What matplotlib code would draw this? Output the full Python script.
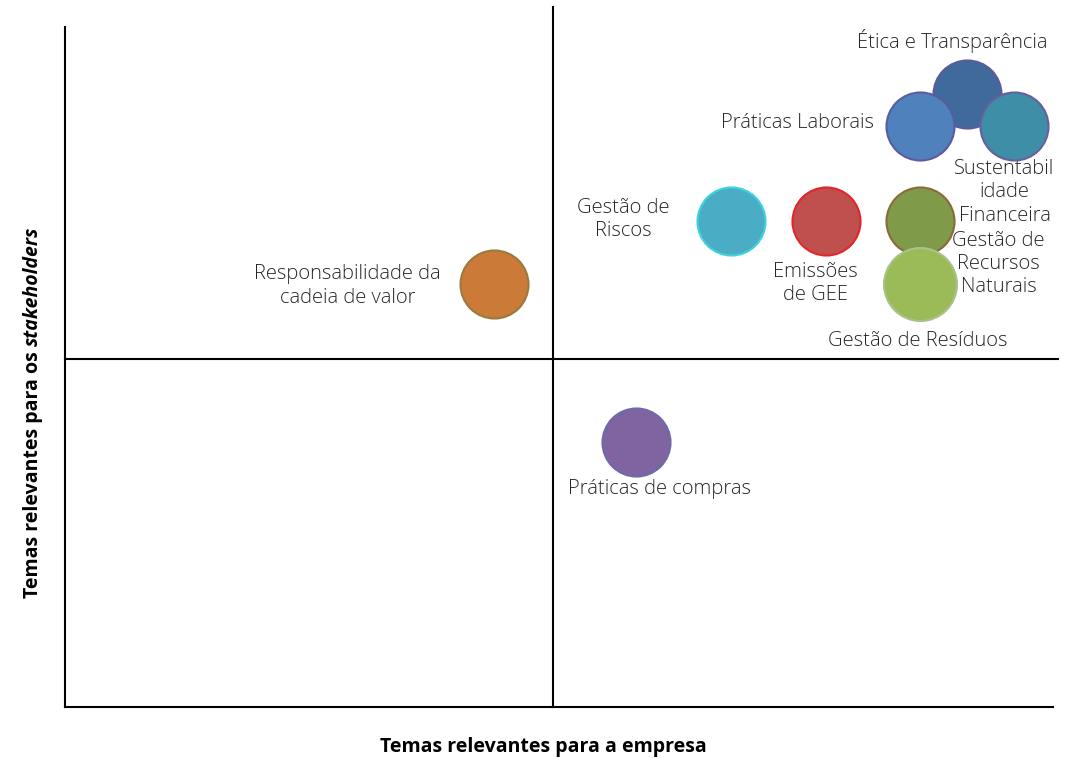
import matplotlib
matplotlib.use("Agg")
import matplotlib.pyplot as plt

# ---------------------------------------------------------
# DATA (materiality matrix, 0-10 scale)
# ---------------------------------------------------------
temas = [
    "Ética e Transparência",
    "Práticas Laborais",
    "Sustentabil\nidade\nFinanceira",
    "Gestão de\nRiscos",
    "Emissões\nde GEE",
    "Gestão de\nRecursos\nNaturais",
    "Gestão de Resíduos",
    "Responsabilidade da\ncadeia de valor",
    "Práticas de compras",
]
empresa = [9.13, 8.65, 9.61, 6.74, 7.70, 8.65, 8.65, 4.34, 5.78]
stakeholders = [9.01, 8.54, 8.54, 7.15, 7.15, 7.15, 6.22, 6.22, 3.90]
tamanho = [2400, 2400, 2400, 2400, 2400, 2400, 2760, 2400, 2400]

cores = ["#406A9C", "#4F81BD", "#3D8EA6", "#4BACC6", "#C0504D",
         "#7F9A48", "#9BBB59", "#CC7A38", "#8064A2"]
bordas = ["#5B5B9C", "#5B5B9F", "#6A5E9E", "#3FD3DA", "#E0262A",
          "#8B6A3A", "#A9C28C", "#9A7A40", "#6E6AA8"]

# label offsets from bubble centre (pixels, screen down = positive)
offsets = [(-15, -53), (-122, -3), (-10, 66), (-108, -1), (-10, 63),
           (79, 43), (-2, 57), (-146, 2), (23, 47)]

x_meio = 4.94
y_meio = 5.12

# ---------------------------------------------------------
# FIGURE
# ---------------------------------------------------------
W, H = 1079, 758
fig = plt.figure(figsize=(W / 100, H / 100), dpi=100)
ax = fig.add_axes([65 / W, (H - 707) / H, 988 / W, 680 / H])
ax.set_xlim(0, 10)
ax.set_ylim(0, 10)
ax.set_xticks([])
ax.set_yticks([])
for s in ["top", "right"]:
    ax.spines[s].set_visible(False)
for s in ["left", "bottom"]:
    ax.spines[s].set_linewidth(1.5)

# quadrant lines
ax.plot([x_meio, x_meio], [0, 10.29], color="black", lw=1.5, clip_on=False)
ax.plot([0, 10.05], [y_meio, y_meio], color="black", lw=1.5, clip_on=False)

for i in range(len(temas)):
    ax.scatter(empresa[i], stakeholders[i], s=tamanho[i], color=cores[i],
               edgecolors=bordas[i], linewidths=1.5, zorder=3 + i, clip_on=False)
    dx, dy = offsets[i]
    ax.annotate(temas[i], (empresa[i], stakeholders[i]),
                xytext=(dx * 0.72, -dy * 0.72), textcoords="offset points",
                ha="center", va="center", fontsize=14.5, color="#262626",
                family="Open Sans", fontweight="light", linespacing=1.22,
                zorder=20)

# axis titles
fig.text(543 / W, (H - 747) / H, "Temas relevantes para a empresa",
         ha="center", va="center", fontsize=14, fontweight="bold",
         family="Open Sans", color="black")

t1 = fig.text(33 / W, (H - 598) / H, "Temas relevantes para os",
              rotation=90, ha="center", va="bottom", fontsize=14,
              fontweight="bold", family="Open Sans", color="black")
ax.annotate("stakeholders", xy=(0.5, 1), xycoords=t1,
            xytext=(0, 4), textcoords="offset points",
            rotation=90, ha="center", va="bottom", fontsize=14,
            fontweight="bold", fontstyle="italic", family="Open Sans",
            color="black", annotation_clip=False)

fig.savefig("out.png", dpi=100)
